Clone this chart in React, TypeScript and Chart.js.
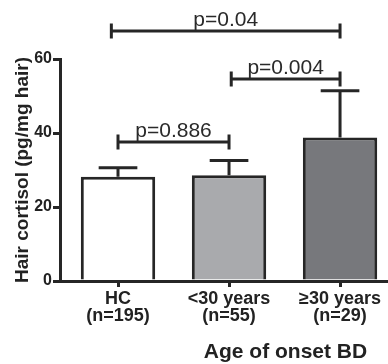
import React, { useEffect, useRef } from 'react';
import { Chart, registerables } from 'chart.js';

Chart.register(...registerables);

// ---- data ----
const groupNames = ['HC', '<30 years', '≥30 years'];
const groupSizes = ['(n=195)', '(n=55)', '(n=29)'];
const positions = [1, 2, 3];
const means = [28.2, 28.6, 38.8];
const sems = [2.4, 4.0, 12.6];
const barColors = ['#ffffff', '#a9aaad', '#77787c'];
const yTicks = [0, 20, 40, 60];
const bracketFrom = [1, 2.02, 0.94];
const bracketTo = [2, 3, 3];
const bracketLevel = [37.6, 54.6, 67.6];
const bracketLabels = ['p=0.886', 'p=0.004', 'p=0.04'];
const yTitle = 'Hair cortisol (pg/mg hair)';
const xTitle = 'Age of onset BD';

const INK = '#262626';
const FONT = '"Liberation Sans", Arial, Helvetica, sans-serif';

const annotate = {
  id: 'annotate',
  afterDatasetsDraw(chart: any) {
    const ctx = chart.ctx;
    const ys = chart.scales.y;
    const meta = chart.getDatasetMeta(0);
    ctx.save();
    ctx.strokeStyle = INK;
    ctx.lineWidth = 3;
    meta.data.forEach((bar: any, i: number) => {
      const cx = bar.x;
      const top = ys.getPixelForValue(means[i]);
      const et = ys.getPixelForValue(means[i] + sems[i]);
      const half = bar.width * 0.26;
      ctx.beginPath();
      ctx.moveTo(cx, top);
      ctx.lineTo(cx, et);
      ctx.moveTo(cx - half, et);
      ctx.lineTo(cx + half, et);
      ctx.stroke();
    });
    ctx.restore();
  },
  afterDraw(chart: any) {
    const ctx = chart.ctx;
    const xs = chart.scales.x;
    const ys = chart.scales.y;
    ctx.save();
    ctx.strokeStyle = INK;
    ctx.fillStyle = '#2a2a2a';
    ctx.lineWidth = 3;
    bracketLabels.forEach((label, i) => {
      const x1 = xs.getPixelForValue(bracketFrom[i]);
      const x2 = xs.getPixelForValue(bracketTo[i]);
      const yy = ys.getPixelForValue(bracketLevel[i]);
      ctx.beginPath();
      ctx.moveTo(x1, yy);
      ctx.lineTo(x2, yy);
      ctx.moveTo(x1, yy - 7.5);
      ctx.lineTo(x1, yy + 7.5);
      ctx.moveTo(x2, yy - 7.5);
      ctx.lineTo(x2, yy + 7.5);
      ctx.stroke();
      ctx.font = `21px ${FONT}`;
      ctx.textAlign = 'center';
      ctx.textBaseline = 'alphabetic';
      ctx.fillText(label, (x1 + x2) / 2, yy - 5);
    });
    // x axis title
    ctx.font = `bold 21px ${FONT}`;
    ctx.fillStyle = '#222';
    ctx.textAlign = 'center';
    ctx.textBaseline = 'alphabetic';
    ctx.fillText(xTitle, xs.getPixelForValue(2.5) + 1, 358);
    ctx.restore();
  },
};

export default function App() {
  const ref = useRef<HTMLCanvasElement | null>(null);
  useEffect(() => {
    if (!ref.current) return;
    const chart = new Chart(ref.current, {
      type: 'bar',
      data: {
        datasets: [
          {
            data: positions.map((p, i) => ({ x: p, y: means[i] })),
            backgroundColor: barColors,
            borderColor: INK,
            borderWidth: 3,
            barPercentage: 0.67,
            categoryPercentage: 1,
          },
        ],
      },
      options: {
        animation: false,
        responsive: false,
        maintainAspectRatio: false,
        layout: { padding: { top: 59, right: 0, left: 0, bottom: 0 } },
        plugins: { legend: { display: false }, tooltip: { enabled: false } },
        scales: {
          x: {
            type: 'linear',
            offset: false,
            min: 0.4775,
            max: 3.432,
            afterBuildTicks: (scale: any) => {
              scale.ticks = positions.map((v) => ({ value: v }));
            },
            afterFit: (scale: any) => {
              scale.height = 83;
            },
            grid: {
              offset: false,
              drawOnChartArea: false,
              drawTicks: true,
              tickLength: 6,
              lineWidth: 3,
              color: INK,
            },
            border: { display: true, color: INK, width: 3 },
            ticks: {
              autoSkip: false,
              maxRotation: 0,
              padding: 3,
              color: '#222',
              font: { family: FONT, size: 18, weight: 'bold', lineHeight: 0.96 },
              callback: (v: any) => {
                const i = positions.indexOf(Number(v));
                return i >= 0 ? [groupNames[i], groupSizes[i]] : '';
              },
            },
          },
          y: {
            min: 0,
            max: 60,
            afterBuildTicks: (scale: any) => {
              scale.ticks = yTicks.map((v) => ({ value: v }));
            },
            afterFit: (scale: any) => {
              scale.width = 60;
            },
            grid: {
              drawOnChartArea: false,
              drawTicks: true,
              tickLength: 7,
              lineWidth: 3,
              color: INK,
            },
            border: { display: true, color: INK, width: 3 },
            ticks: {
              padding: 1,
              color: '#222',
              font: { family: FONT, size: 16, weight: 'bold' },
            },
            title: {
              display: true,
              text: yTitle,
              color: '#222',
              padding: { top: 11, bottom: 0 },
              font: { family: FONT, size: 19, weight: 'bold' },
            },
          },
        },
      },
      plugins: [annotate],
    } as any);
    return () => chart.destroy();
  }, []);
  return (
    <div style={{ position: 'absolute', left: 0, top: 0, width: 388, height: 364, background: '#fff' }}>
      <canvas ref={ref} width={388} height={364} style={{ width: 388, height: 364, display: 'block' }} />
    </div>
  );
}
